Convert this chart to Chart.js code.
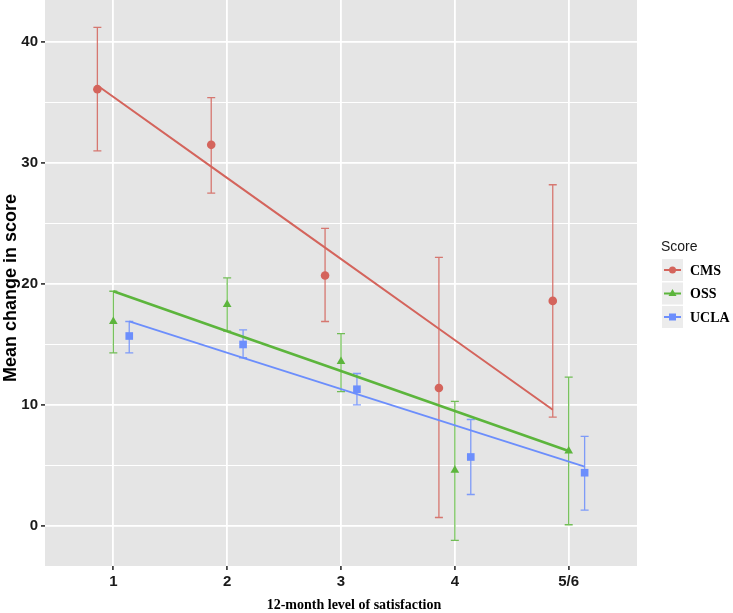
<!DOCTYPE html>
<html lang="en">
<head>
<meta charset="UTF-8">
<script src="https://cdn.jsdelivr.net/npm/chart.js"></script>
<style>
  body { margin: 0; background: #fff; }
  #wrap { width: 733px; height: 613px; }
</style>
</head>
<body>
<div id="wrap"><canvas id="myChart"></canvas></div>
<script>
// values
let categories = ['1', '2', '3', '4', '5/6'];
let series_names = ['CMS', 'OSS', 'UCLA'];

let cms_mean = [36.1, 31.5, 20.7, 11.4, 18.6];
let cms_low  = [31.0, 27.5, 16.9, 0.7, 9.0];
let cms_high = [41.2, 35.4, 24.6, 22.2, 28.2];
let cms_fit  = [36.4, 29.7, 23.0, 16.3, 9.6];

let oss_mean = [16.9, 18.3, 13.6, 4.6, 6.2];
let oss_low  = [14.3, 16.1, 11.1, -1.2, 0.1];
let oss_high = [19.4, 20.5, 15.9, 10.3, 12.3];
let oss_fit  = [19.4, 16.1, 12.8, 9.5, 6.2];

let ucla_mean = [15.7, 15.0, 11.3, 5.7, 4.4];
let ucla_low  = [14.3, 13.9, 10.0, 2.6, 1.3];
let ucla_high = [16.9, 16.2, 12.6, 8.8, 7.4];
let ucla_fit  = [16.9, 13.9, 10.9, 7.9, 4.9];

let y_ticks = [0, 10, 20, 30, 40];

// styling
let colors = ['#d4645c', '#5cb53c', '#6c8efc'];
let bar_colors = ['rgba(212,100,92,0.85)', 'rgba(92,181,60,0.85)', 'rgba(108,142,252,0.85)'];
let shapes = ['circle', 'triangle', 'rect'];
let radii = [4.3, 5, 5.4];
let line_widths = [2, 2.6, 1.8];
let dodge = [-0.14, 0, 0.14];

let means = [cms_mean, oss_mean, ucla_mean];
let lows = [cms_low, oss_low, ucla_low];
let highs = [cms_high, oss_high, ucla_high];
let fits = [cms_fit, oss_fit, ucla_fit];

let datasets = [];
series_names.forEach(function (name, i) {
    datasets.push({
        label: name + ' fit',
        data: fits[i].map((v, k) => ({ x: k + 1 + dodge[i], y: v })),
        showLine: true,
        borderColor: colors[i],
        borderWidth: line_widths[i],
        pointRadius: 0,
        order: 1
    });
    datasets.push({
        label: name,
        data: means[i].map((v, k) => ({ x: k + 1 + dodge[i], y: v })),
        showLine: false,
        pointStyle: shapes[i],
        pointRadius: radii[i],
        pointBackgroundColor: colors[i],
        pointBorderWidth: 0,
        errLow: lows[i],
        errHigh: highs[i],
        errColor: bar_colors[i],
        order: 2
    });
});

// grey panel + error bars under the marks
let panelPlugin = {
    id: 'panel',
    beforeDraw: function (chart) {
        let a = chart.chartArea, c = chart.ctx;
        c.save();
        c.fillStyle = '#e5e5e5';
        c.fillRect(a.left, a.top, a.right - a.left, a.bottom - a.top);
        c.restore();
    },
    beforeDatasetsDraw: function (chart) {
        let c = chart.ctx, xs = chart.scales.x, ys = chart.scales.y;
        c.save();
        chart.data.datasets.forEach(function (ds) {
            if (!ds.errLow) return;
            c.strokeStyle = ds.errColor;
            c.lineWidth = 1.3;
            ds.data.forEach(function (p, k) {
                let px = xs.getPixelForValue(p.x);
                let y1 = ys.getPixelForValue(ds.errLow[k]);
                let y2 = ys.getPixelForValue(ds.errHigh[k]);
                c.beginPath();
                c.moveTo(px, y1); c.lineTo(px, y2);
                c.moveTo(px - 4, y1); c.lineTo(px + 4, y1);
                c.moveTo(px - 4, y2); c.lineTo(px + 4, y2);
                c.stroke();
            });
        });
        c.restore();
    },
    afterDraw: function (chart) {
        let c = chart.ctx;
        c.save();
        // axis titles
        c.fillStyle = '#000';
        c.textAlign = 'center';
        c.textBaseline = 'middle';
        c.font = 'bold 14px "Liberation Serif"';
        c.fillText('12-month level of satisfaction', 354, 605);
        c.translate(11, 288);
        c.rotate(-Math.PI / 2);
        c.font = 'bold 18px "Liberation Sans"';
        c.fillText('Mean change in score', 0, 0);
        c.restore();

        // legend
        c.save();
        c.fillStyle = '#1a1a1a';
        c.textAlign = 'left';
        c.textBaseline = 'middle';
        c.font = '14px "Liberation Sans"';
        c.fillText('Score', 661, 247);
        series_names.forEach(function (name, i) {
            let cy = 270 + i * 23.5;
            c.fillStyle = '#ececec';
            c.fillRect(662, cy - 11, 21, 22);
            c.strokeStyle = colors[i];
            c.lineWidth = 2;
            c.beginPath();
            c.moveTo(664, cy); c.lineTo(681, cy);
            c.stroke();
            c.fillStyle = colors[i];
            c.beginPath();
            if (shapes[i] === 'circle') {
                c.arc(672.5, cy, 3.5, 0, Math.PI * 2);
            } else if (shapes[i] === 'triangle') {
                c.moveTo(672.5, cy - 4.5); c.lineTo(676.5, cy + 2.5); c.lineTo(668.5, cy + 2.5); c.closePath();
            } else {
                c.rect(669, cy - 3.5, 7, 7);
            }
            c.fill();
            c.fillStyle = '#000';
            c.font = 'bold 14px "Liberation Serif"';
            c.fillText(name, 690, cy + 1);
        });
        c.restore();
    }
};

let ctx = document.getElementById('myChart');
let configs = {
    type: 'scatter',
    data: { datasets: datasets },
    options: {
        responsive: true,
        maintainAspectRatio: false,
        animation: false,
        layout: { autoPadding: false, padding: { top: 0, right: 96, bottom: 0, left: 0 } },
        plugins: { legend: { display: false }, tooltip: { enabled: false } },
        scales: {
            x: {
                type: 'linear',
                min: 0.4,
                max: 5.6,
                afterBuildTicks: function (scale) {
                    scale.ticks = categories.map((c, i) => ({ value: i + 1 }));
                },
                afterFit: function (scale) {
                    scale.height = 47;
                    scale.paddingLeft = 0;
                    scale.paddingRight = 0;
                },
                ticks: {
                    callback: function (v) { return categories[v - 1]; },
                    color: '#1a1a1a',
                    font: { family: '"Liberation Sans Narrow", "Liberation Sans"', weight: 'bold', size: 15 },
                    padding: 3,
                    maxRotation: 0
                },
                grid: {
                    color: '#ffffff',
                    lineWidth: 1.8,
                    tickColor: '#444',
                    tickLength: 4
                },
                border: { display: false }
            },
            y: {
                min: -3.31,
                max: 43.47,
                afterBuildTicks: function (scale) {
                    let t = [];
                    for (let v = 0; v <= 40; v += 5) t.push({ value: v });
                    scale.ticks = t;
                },
                afterFit: function (scale) {
                    scale.width = 45;
                    scale.paddingTop = 0;
                    scale.paddingBottom = 0;
                },
                ticks: {
                    callback: function (v) { return y_ticks.includes(v) ? String(v) : ''; },
                    color: '#1a1a1a',
                    font: { family: '"Liberation Sans Narrow", "Liberation Sans"', weight: 'bold', size: 15 },
                    padding: 3
                },
                grid: {
                    color: '#ffffff',
                    lineWidth: function (c) { return c.tick && c.tick.value % 10 === 0 ? 1.8 : 1; },
                    tickColor: function (c) { return c.tick && c.tick.value % 10 === 0 ? '#444' : 'rgba(0,0,0,0)'; },
                    tickLength: 4
                },
                border: { display: false }
            }
        }
    },
    plugins: [panelPlugin]
};
let myChart = new Chart(ctx, configs);
</script>
</body>
</html>
